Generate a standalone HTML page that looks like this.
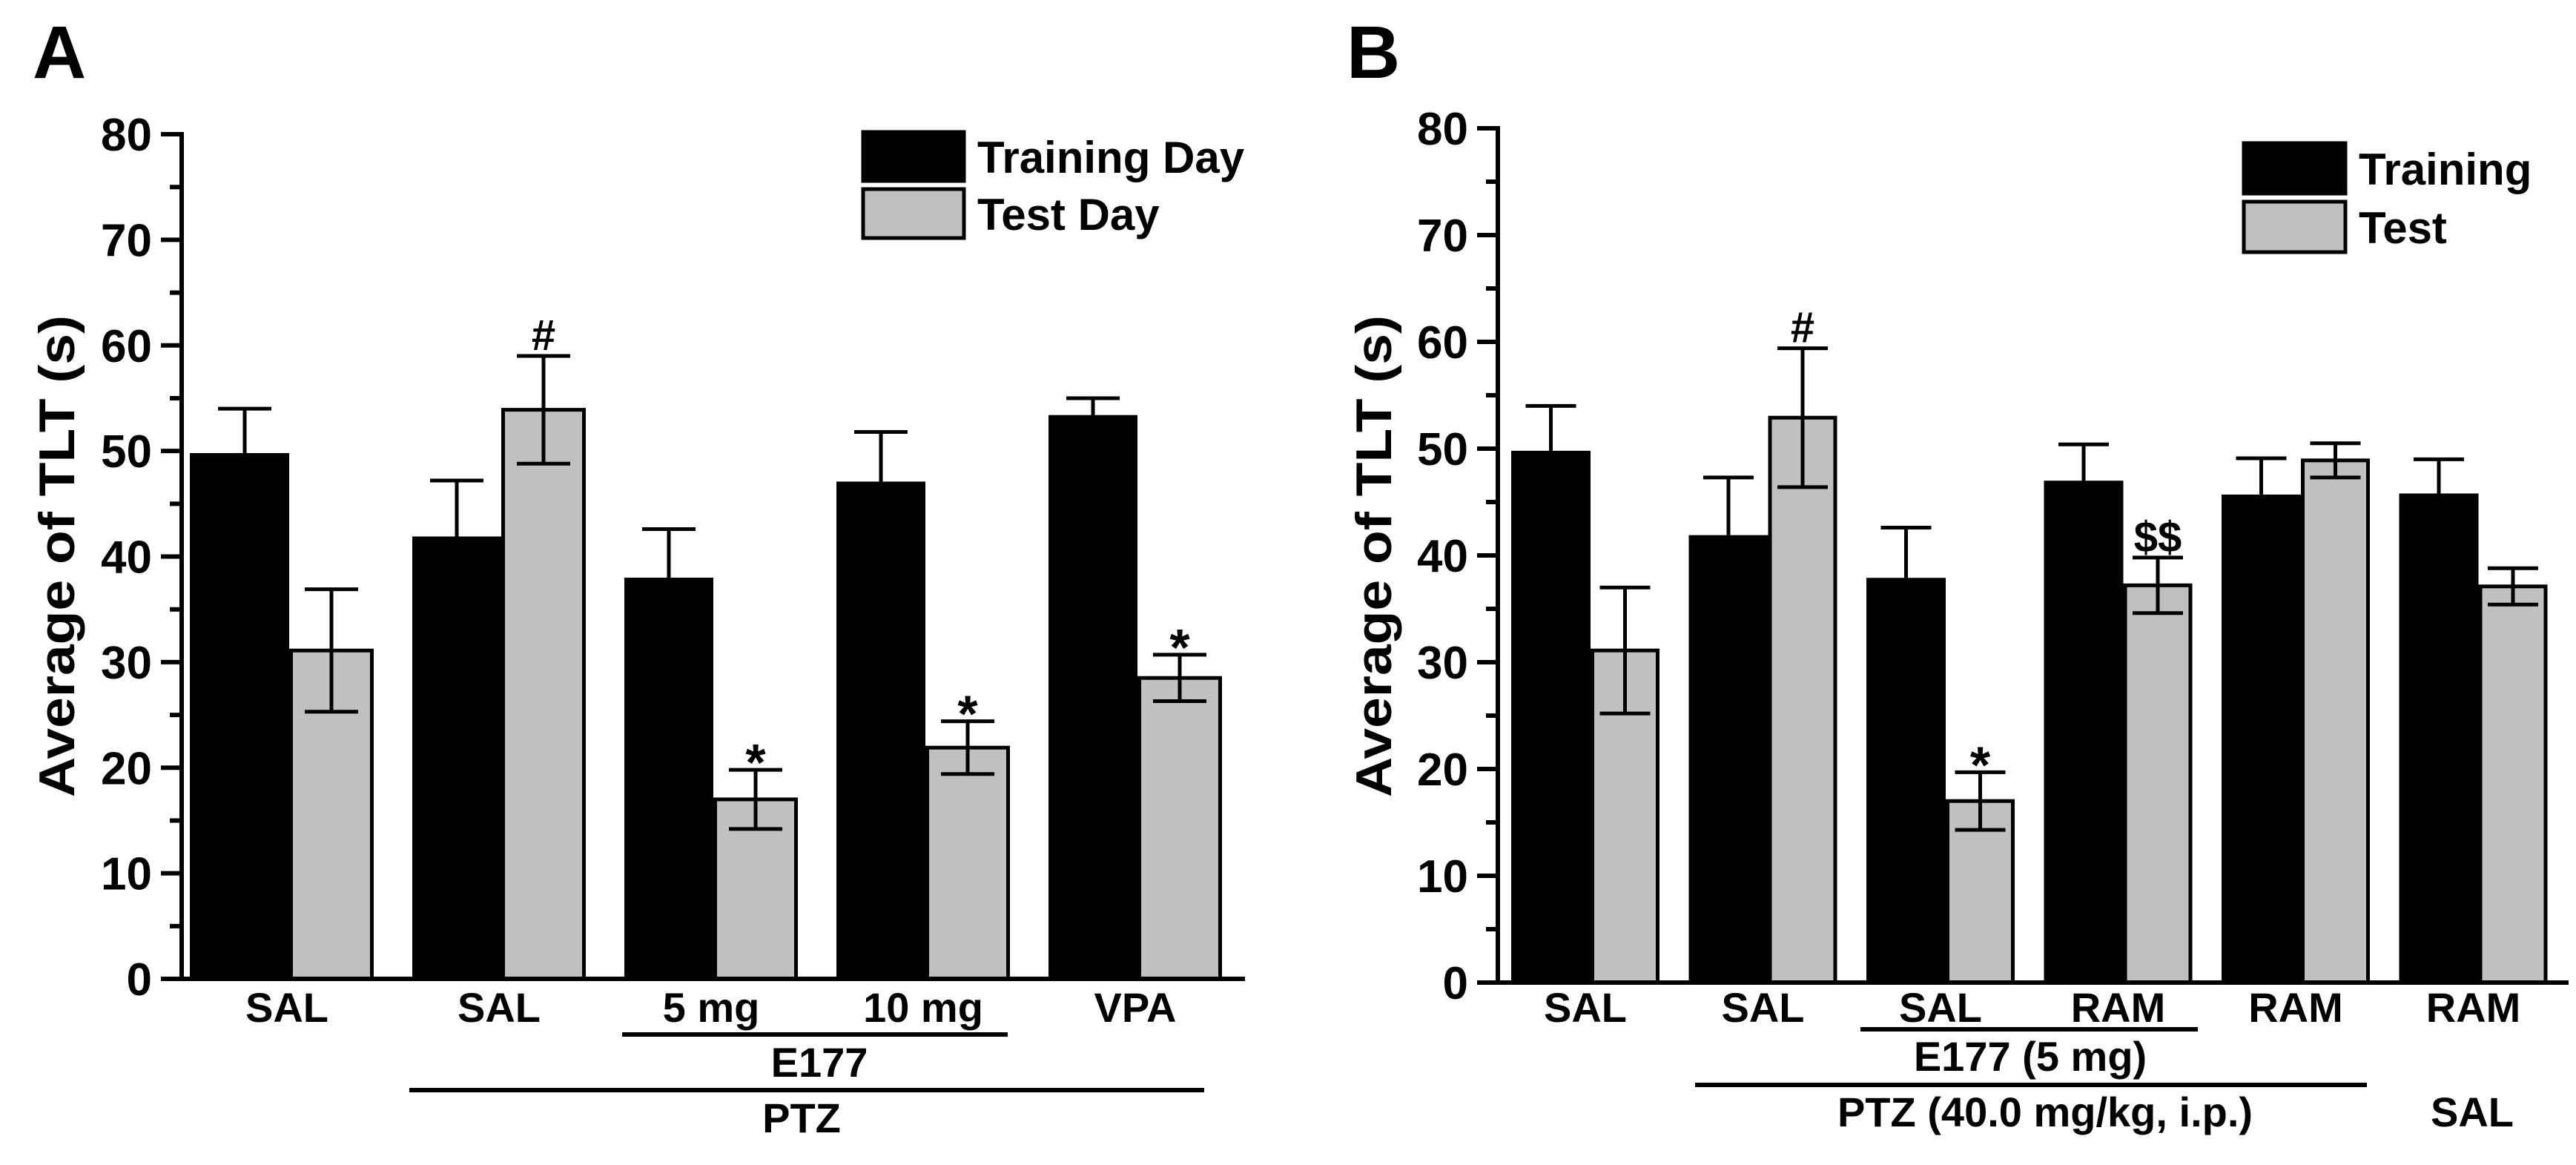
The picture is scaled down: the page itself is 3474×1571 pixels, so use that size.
<!DOCTYPE html>
<html><head><meta charset="utf-8"><style>
html,body{margin:0;padding:0;background:#fff;}
svg{display:block;font-family:"Liberation Sans",Arial,sans-serif;font-weight:bold;}
</style></head><body>
<svg id="fig" width="3474" height="1571" viewBox="0 0 3474 1571"></svg>
<script>
// Panel A data
const catsA = ["SAL","SAL","5 mg","10 mg","VPA"];
const trainA = [49.8,41.9,38.0,47.1,53.4];
const trainErrA = [4.2,5.3,4.6,4.7,1.6];
const testA = [31.1,53.9,17.0,21.9,28.5];
const testErrA = [5.8,5.1,2.8,2.5,2.2];
const markA = ["","#","*","*","*"];
// Panel B data
const catsB = ["SAL","SAL","SAL","RAM","RAM","RAM"];
const trainB = [49.8,41.9,37.9,47.0,45.7,45.8];
const trainErrB = [4.2,5.4,4.7,3.4,3.4,3.2];
const testB = [31.1,52.9,17.0,37.2,48.9,37.1];
const testErrB = [5.9,6.5,2.7,2.6,1.6,1.7];
const markB = ["","#","*","$$","",""];
const yTicks = [0,10,20,30,40,50,60,70,80];

const NS="http://www.w3.org/2000/svg";
const svg=document.getElementById('fig');
function mk(tag,attrs,parent,txt){const e=document.createElementNS(NS,tag);for(const k in attrs)e.setAttribute(k,attrs[k]);if(txt!==undefined)e.textContent=txt;(parent||svg).appendChild(e);return e;}

function panel(P){
  const g=mk('g',{});
  
  
  const y=v=>P.y0-v*(P.y0-P.y80)/80;
  P.cats.forEach((c,i)=>{
    const s=P.g0+i*P.gs;
    const bx=(i===0)?P.first:s;
    const b=mk('rect',{x:bx,y:y(P.train[i]),width:s+P.bw-bx,height:P.y0-y(P.train[i]),fill:'#000'},g);
    
    
    const gx=s+P.bw+2.5;
    const t=mk('rect',{x:gx,y:y(P.test[i]),width:P.gw-5,height:P.y0-y(P.test[i]),fill:'#c0c0c0',stroke:'#000','stroke-width':5},g);
    
    
    const cx1=s+P.bw/2, top1=y(P.train[i]+P.trainErr[i]);
    const e1=mk('path',{d:`M${cx1},${y(P.train[i])}V${top1}M${cx1-P.cap},${top1}H${cx1+P.cap}`,stroke:'#000','stroke-width':5,fill:'none'},g);
    
    
    const cx2=gx+(P.gw-5)/2, top2=y(P.test[i]+P.testErr[i]), bot2=y(P.test[i]-P.testErr[i]);
    const e2=mk('path',{d:`M${cx2},${bot2}V${top2}M${cx2-P.cap},${top2}H${cx2+P.cap}M${cx2-P.cap},${bot2}H${cx2+P.cap}`,stroke:'#000','stroke-width':5,fill:'none'},g);
    
    
    if(P.mark[i]){
      const isStar=P.mark[i]==='*';
      const m=mk('text',{x:cx2,y:isStar?top2+14:top2-8,'text-anchor':'middle','font-size':isStar?70:58},g,P.mark[i]);
      
      
    }
    const l=mk('text',{x:s+(P.bw+P.gw)/2,y:1378,'text-anchor':'middle','font-size':56},g,c);
    
    
  });
  const ax=mk('path',{d:`M${P.x0},${P.y80-3}V${P.y0}H${P.xEnd}`,stroke:'#000','stroke-width':6,fill:'none'},g);
  
  
  yTicks.forEach(v=>{
    const tk=mk('path',{d:`M${P.x0-28},${y(v)}H${P.x0}`+(v<80?`M${P.x0-16},${y(v+5)}H${P.x0}`:''),stroke:'#000','stroke-width':6},g);
    
    
    const tl=mk('text',{x:P.x0-40,y:y(v)+22,'text-anchor':'end','font-size':62},g,String(v));
    
    
  });
  const yt=mk('text',{x:0,y:0,'text-anchor':'middle','font-size':68,textLength:650,lengthAdjust:'spacingAndGlyphs',transform:`translate(${P.titleX},750) rotate(-90)`},g,'Average of TLT (s)');
  
  
  const pl=mk('text',{x:P.letterX,y:105,'font-size':100},g,P.id);
  
  
  const L=P.leg;
  const lb=mk('rect',{x:L.x,y:L.y1,width:L.w,height:L.h,fill:'#000',stroke:'#000','stroke-width':5},g);
  
  
  const lg=mk('rect',{x:L.x,y:L.y2,width:L.w,height:L.h,fill:'#c0c0c0',stroke:'#000','stroke-width':5},g);
  
  
  const lt1=mk('text',{x:L.x+L.w+18,y:L.y1+L.h/2+22,'font-size':60},g,L.t1);
  
  
  const lt2=mk('text',{x:L.x+L.w+18,y:L.y2+L.h/2+22,'font-size':60},g,L.t2);
  
  
  P.groups.forEach(G=>{
    const ln=mk('path',{d:`M${G.x1},${G.ly}H${G.x2}`,stroke:'#000','stroke-width':6},g);
    
    
    const gt=mk('text',{x:G.tx,y:G.ty,'text-anchor':'middle','font-size':56},g,G.t);
    
    
  });
  P.extra.forEach(E=>{
    const et=mk('text',{x:E.x,y:E.y,'text-anchor':'middle','font-size':56},g,E.t);
    
    
  });
}
panel({id:'A',cats:catsA,train:trainA,trainErr:trainErrA,test:testA,testErr:testErrA,mark:markA,
  x0:245,y0:1320,y80:181,xEnd:1679,g0:270,gs:286,bw:120,gw:114,cap:36,titleX:100,letterX:44,first:256,
  leg:{x:1164,y1:178,y2:255,w:136,h:66,t1:'Training Day',t2:'Test Day'},
  groups:[{x1:839,x2:1359,ly:1395,t:'E177',tx:1105,ty:1452},{x1:552,x2:1624,ly:1470,t:'PTZ',tx:1081,ty:1527}],extra:[]});
panel({id:'B',cats:catsB,train:trainB,trainErr:trainErrB,test:testB,testErr:testErrB,mark:markB,
  x0:2020,y0:1325,y80:173,xEnd:3464,g0:2038,gs:239.5,bw:107,gw:93,cap:34,titleX:1876,letterX:1816,first:2038,
  leg:{x:3026,y1:193,y2:272,w:137,h:68,t1:'Training',t2:'Test'},
  groups:[{x1:2509,x2:2964,ly:1388,t:'E177 (5 mg)',tx:2738,ty:1444},{x1:2286,x2:3192,ly:1463,t:'PTZ (40.0 mg/kg, i.p.)',tx:2758,ty:1519}],
  extra:[{x:3334,y:1519,t:'SAL'}]});
</script>
</body></html>
